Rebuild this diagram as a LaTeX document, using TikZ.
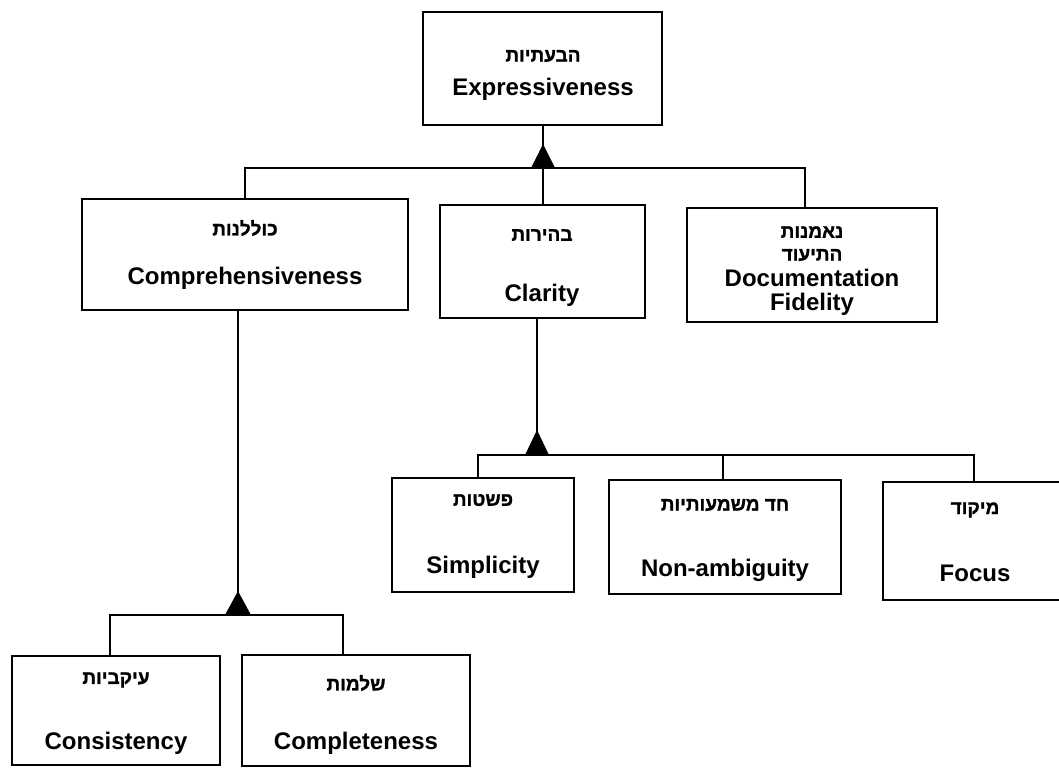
\documentclass[tikz,border=0pt]{standalone}
\usepackage{fontspec}
\setmainfont{Liberation Sans}
\newfontfamily\hebfont[Script=Hebrew, BoldFeatures={FakeBold=1.2}]{Liberation Sans}
\TeXXeTstate=1

\tikzset{
  box/.style={draw=black, line width=1.7pt, rectangle, inner sep=0pt},
  eng/.style={font=\fontsize{24}{26}\selectfont\bfseries, inner sep=0pt},
  heb/.style={font=\hebfont\fontsize{19}{21}\selectfont\bfseries, inner sep=0pt},
  conn/.style={line width=1.7pt},
  tri/.style={fill=black}
}

\begin{document}
\begin{tikzpicture}[x=1pt,y=-1pt]
\useasboundingbox (0,0) rectangle (1059,769);

% boxes
\node[box, minimum width=239pt, minimum height=113pt] (top)   at (542.5,68.5) {};
\node[box, minimum width=326pt, minimum height=111pt] (comp)  at (245,254.5) {};
\node[box, minimum width=205pt, minimum height=113pt] (clar)  at (542.5,261.5) {};
\node[box, minimum width=250pt, minimum height=114pt] (doc)   at (812,265) {};
\node[box, minimum width=182pt, minimum height=114pt] (simp)  at (483,535) {};
\node[box, minimum width=232pt, minimum height=114pt] (nona)  at (725,537) {};
\node[box, minimum width=182pt, minimum height=118pt] (focus) at (974,541) {};
\node[box, minimum width=208pt, minimum height=109pt] (cons)  at (116,710.5) {};
\node[box, minimum width=228pt, minimum height=111pt] (compl) at (356,710.5) {};

% labels
\node[heb] (topH) at (543,56) {\beginR הבעתיות\endR};
\node[eng] (topE) at (543,89) {Expressiveness};
\node[heb] (compH) at (245,228) {\beginR כוללנות\endR};
\node[eng] (compE) at (245,278) {Comprehensiveness};
\node[heb] (clarH) at (542,235) {\beginR בהירות\endR};
\node[eng] (clarE) at (542,295) {Clarity};
\node[heb] (docH1) at (812,232) {\beginR נאמנות\endR};
\node[heb] (docH2) at (812,255) {\beginR התיעוד\endR};
\node[eng, anchor=base] (docE1) at (812,286) {Documentation};
\node[eng, anchor=base] (docE2) at (812,310) {Fidelity};
\node[heb] (simpH) at (483,500) {\beginR פשטות\endR};
\node[eng] (simpE) at (483,567) {Simplicity};
\node[heb] (nonaH) at (725,505) {\beginR חד משמעותיות\endR};
\node[eng] (nonaE) at (725,570) {Non-ambiguity};
\node[heb] (focusH) at (975,510) {\beginR מיקוד\endR};
\node[eng] (focusE) at (975,573) {Focus};
\node[heb] (consH) at (116,680) {\beginR עיקביות\endR};
\node[eng] (consE) at (116,743) {Consistency};
\node[heb] (complH) at (356,683) {\beginR שלמות\endR};
\node[eng] (complE) at (356,743) {Completeness};

% junction points
\coordinate (j1) at (543,168);
\coordinate (j2) at (537,455);
\coordinate (j3) at (238,615);

% connectors
\draw[conn] (top.south -| j1) -- (j1);
\draw[conn] (comp.north) |- (j1) -| ([xshift=-7pt]doc.north);
\draw[conn] (clar.north -| j1) -- (j1);

\draw[conn] (clar.south -| j2) -- (j2);
\draw[conn] ([xshift=-5pt]simp.north) |- (j2) -| ([xshift=-2pt]nona.north);
\draw[conn] (j2) -| (focus.north);

\draw[conn] (comp.south -| j3) -- (j3);
\draw[conn] ([xshift=-6pt]cons.north) |- (j3) -| ([xshift=-13pt]compl.north);

% aggregation triangles
\fill[tri] (j1) ++(-12,0) -- ++(12,-24) -- ++(12,24) -- cycle;
\fill[tri] (j2) ++(-12,0) -- ++(12,-25) -- ++(12,25) -- cycle;
\fill[tri] (j3) ++(-13,0) -- ++(13,-24) -- ++(13,24) -- cycle;
\end{tikzpicture}
\end{document}
